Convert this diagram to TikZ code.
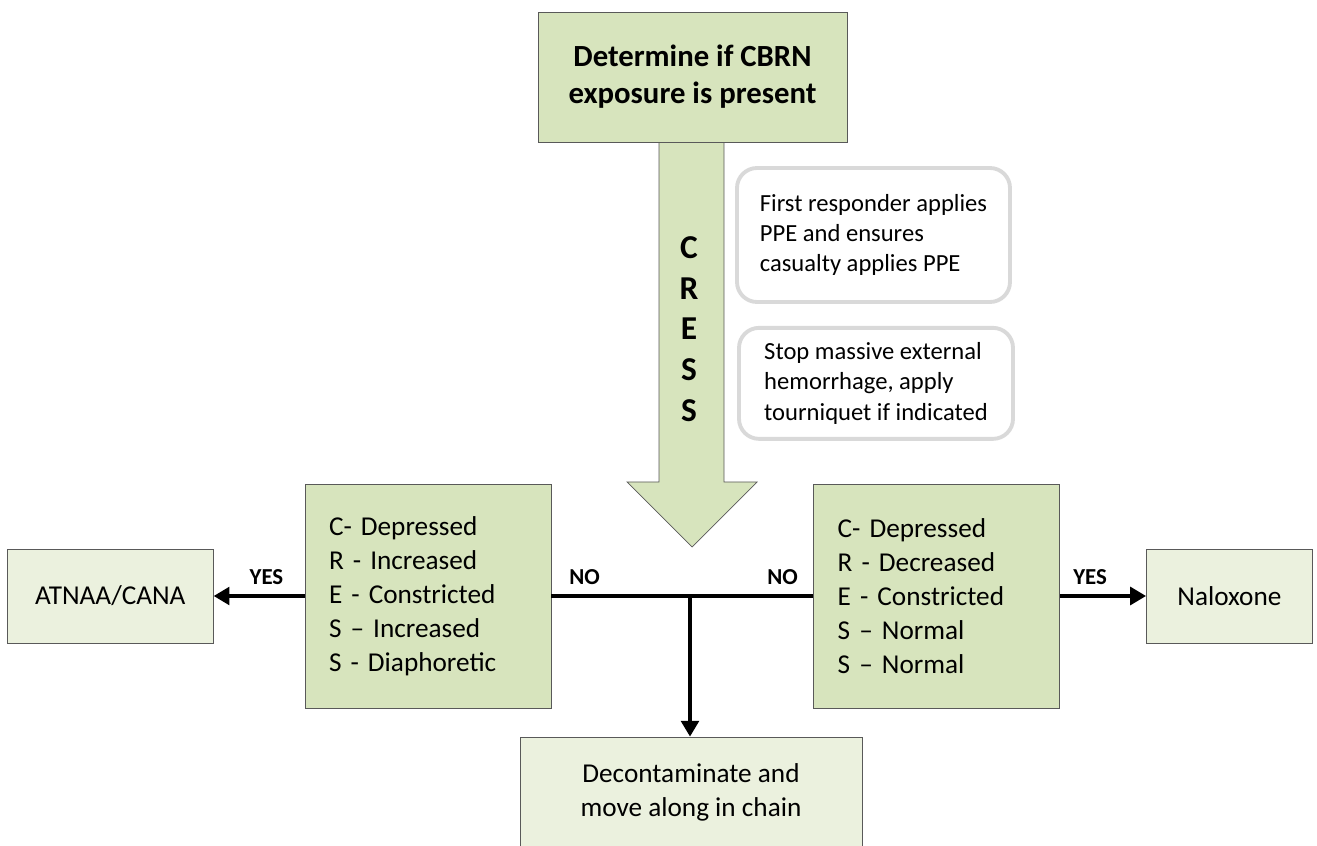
\documentclass[tikz,border=0pt]{standalone}
\usepackage{fontspec}
\setmainfont{Carlito}
\usepackage{tikz}
\usetikzlibrary{positioning}
\usetikzlibrary{shapes.geometric, arrows, arrows.meta}
\definecolor{boxgreen}{HTML}{D7E4BD}
\definecolor{palegreen}{HTML}{EBF1DE}
\definecolor{edgegray}{HTML}{595959}
\definecolor{notegray}{HTML}{D9D9D9}
\tikzstyle{arrow} = [line width=2.2pt,->,>={Triangle[length=9pt,width=10pt]}]
\tikzstyle{line} = [line width=2.2pt]
\tikzstyle{signs} = [draw=edgegray,fill=boxgreen,thin,minimum width=4.92cm,minimum height=4.48cm,inner xsep=0.48cm,text width=3.96cm,align=left,font=\fontsize{15.5}{19.3}\selectfont]
\tikzstyle{outcome} = [draw=edgegray,fill=palegreen,thin,minimum height=1.88cm,align=center,font=\fontsize{15.5}{19.3}\selectfont]
\tikzstyle{note} = [draw=notegray,line width=2.2pt,rounded corners=0.4cm,fill=white,align=left,font=\fontsize{14}{17.3}\selectfont]
\tikzstyle{answer} = [above=2pt,font=\fontsize{13}{15}\selectfont\bfseries]

\begin{document}
\begin{tikzpicture}
					\useasboundingbox (0,0) rectangle (26.34,-16.92);
					
					%CRESS arrow
					\draw[edgegray, fill=boxgreen, thin] (13.18,-2.84) -- (13.18,-9.64) -- (12.54,-9.64) -- (13.84,-10.94) -- (15.14,-9.64) -- (14.48,-9.64) -- (14.48,-2.84) -- cycle;
					\node [align=center, font=\fontsize{19}{23.2}\selectfont\bfseries] (cress) at (13.78,-6.58) {C\\R\\E\\S\\S};
					
					%Nodes
					\node [draw=edgegray,fill=boxgreen,thin,minimum width=6.18cm,minimum height=2.6cm,align=center,font=\fontsize{17.5}{21}\selectfont\bfseries] (cbrn) at (13.85,-1.54) {Determine if CBRN\\exposure is present};
					
					\node [note, minimum width=5.46cm, minimum height=2.68cm] (ppe) at (17.47,-4.70) {First responder applies\\PPE and ensures\\casualty applies PPE};
					\node [note, minimum width=5.48cm, minimum height=2.22cm, below=0.44cm of ppe, xshift=0.05cm] (bleed) {Stop massive external\\hemorrhage, apply\\tourniquet if indicated};
					
					\node [signs] (nerve) at (8.56,-11.92) {C- Depressed\\R - Increased\\E - Constricted\\S – Increased\\S - Diaphoretic};
					\node [signs, right=5.24cm of nerve] (opioid) {C- Depressed\\R - Decreased\\E - Constricted\\S – Normal\\S – Normal};
					
					\node [outcome, minimum width=4.12cm, left=1.82cm of nerve] (atnaa) {ATNAA/CANA};
					\node [outcome, minimum width=3.32cm, right=1.72cm of opioid] (naloxone) {Naloxone};
					\node [outcome, minimum width=6.84cm, minimum height=2.2cm] (decon) at (13.82,-15.84) {Decontaminate and\\move along in chain};
					
					\coordinate (split) at (13.8,-11.92);
					
					%Lines
					\draw[line] (nerve.east) -- node[answer, pos=0.24]{NO} (split);
					\draw[line] (opioid.west) -- node[answer, pos=0.25]{NO} (split);
					\draw[arrow] (split) -- (split |- decon.north);
					\draw[arrow] (nerve.west) -- node[answer, pos=0.42]{YES} (atnaa.east);
					\draw[arrow] (opioid.east) -- node[answer, pos=0.35]{YES} (naloxone.west);
				\end{tikzpicture}
\end{document}
